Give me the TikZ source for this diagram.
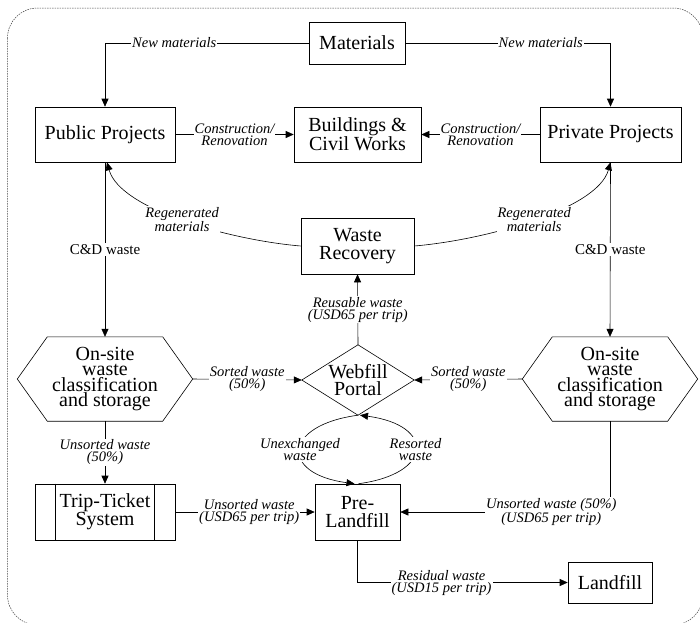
\documentclass[tikz,border=0pt]{standalone}
\usepackage{fontspec}
\setmainfont{Liberation Serif}
\usetikzlibrary{arrows.meta}
\begin{document}
\begin{tikzpicture}[x=1pt,y=-1pt,
  box/.style={draw, line width=0.6pt, align=center, font=\fontsize{20}{18}\selectfont, inner sep=0pt},
  hexbox/.style={align=center, font=\fontsize{20}{15.5}\selectfont, inner sep=0pt, minimum width=175pt, minimum height=84pt},
  lbl/.style={fill=white, inner sep=1pt, align=center, font=\fontsize{14.5}{12}\selectfont\itshape},
  con/.style={line width=0.6pt},
  arr/.style={con, -{Triangle[length=8pt,width=7pt]}},
  shapeline/.style={line width=0.6pt}]
\useasboundingbox (0,0) rectangle (700,622);
\draw[line width=0.5pt, dash pattern=on 1.5pt off 1pt, rounded corners=30pt, black!75] (7.5,8) rectangle (703,625);

% nodes
\node[box, minimum width=96pt, minimum height=42pt] (mat) at (357,43) {Materials};
\node[box, minimum width=140pt, minimum height=55pt] (pub) at (105,134.5) {Public Projects};
\node[box, minimum width=127pt, minimum height=55pt] (bld) at (357.5,134.5) {Buildings \&\\Civil Works};
\node[box, minimum width=141pt, minimum height=55pt] (pri) at (610.5,134.5) {Private Projects};
\node[box, minimum width=113pt, minimum height=56pt] (wr) at (357.5,246) {Waste\\Recovery};
\node[hexbox] (hexL) at (105,379) {On-site\\waste\\classification\\and storage};
\node[hexbox] (hexR) at (610,379) {On-site\\waste\\classification\\and storage};
\node[align=center, font=\fontsize{20}{17}\selectfont, inner sep=0pt, minimum width=112pt, minimum height=70pt] (web) at (358,380) {Webfill\\Portal};
\node[box, minimum width=140pt, minimum height=56pt] (tt) at (105,512) {Trip-Ticket\\System};
\node[box, minimum width=85pt, minimum height=56pt] (pre) at (357.5,512) {Pre-\\Landfill};
\node[box, minimum width=84pt, minimum height=41pt] (land) at (610,582.5) {Landfill};

% custom outlines
\foreach \h in {hexL,hexR}
  \draw[shapeline] (\h.west) -- ([xshift=30pt]\h.north west) -- ([xshift=-30pt]\h.north east) -- (\h.east) -- ([xshift=-30pt]\h.south east) -- ([xshift=30pt]\h.south west) -- cycle;
\draw[shapeline] (web.north) -- (web.east) -- (web.south) -- (web.west) -- cycle;
\draw[shapeline] ([xshift=21pt]tt.north west) -- ([xshift=21pt]tt.south west);
\draw[shapeline] ([xshift=-21pt]tt.north east) -- ([xshift=-21pt]tt.south east);

% connectors
\draw[arr] (mat.west) -| node[lbl,pos=0.33]{New materials} (pub.north);
\draw[arr] (mat.east) -| node[lbl,pos=0.33]{New materials} (pri.north);
\draw[arr] (pub.east) -- node[lbl]{Construction/\\Renovation} (bld.west);
\draw[arr] (pri.west) -- node[lbl]{Construction/\\Renovation} (bld.east);
\draw[arr] (wr.west) .. controls +(-71,-6) and +(13,47) .. node[lbl,pos=0.5]{Regenerated\\materials} ([xshift=2pt]pub.south);
\draw[arr] (wr.east) .. controls +(71,-6) and +(-13,47) .. node[lbl,pos=0.5]{Regenerated\\materials} (pri.south);
\draw[arr] (pub.south) -- node[lbl,font=\fontsize{15}{12}\selectfont]{C\&D waste} (hexL.north);
\draw[arr] (pri.south) -- node[lbl,font=\fontsize{15}{12}\selectfont]{C\&D waste} (hexR.north);
\draw[arr] (hexL.east) -- node[lbl]{Sorted waste\\(50\%)} (web.west);
\draw[arr] (hexR.west) -- node[lbl]{Sorted waste\\(50\%)} (web.east);
\draw[arr] (web.north) -- node[lbl]{Reusable waste\\(USD65 per trip)} (wr.south);
\draw[arr] (web.south) .. controls +(-75,10) and +(-75,-10) .. node[lbl]{Unexchanged\\waste} ([xshift=-3pt]pre.north);
\draw[arr] ([xshift=1pt]pre.north) .. controls +(75,-10) and +(75,10) .. node[lbl]{Resorted\\waste} ([xshift=2pt]web.south);
\draw[arr] (hexL.south) -- node[lbl]{Unsorted waste\\(50\%)} (tt.north);
\draw[arr] (tt.east) -- node[lbl,pos=0.53]{Unsorted waste\\(USD65 per trip)} (pre.west);
\draw[arr] (hexR.south) |- node[lbl,pos=0.64]{Unsorted waste (50\%)\\(USD65 per trip)} (pre.east);
\draw[arr] (pre.south) |- node[lbl,pos=0.70]{Residual waste\\(USD15 per trip)} (land.west);
\end{tikzpicture}
\end{document}
